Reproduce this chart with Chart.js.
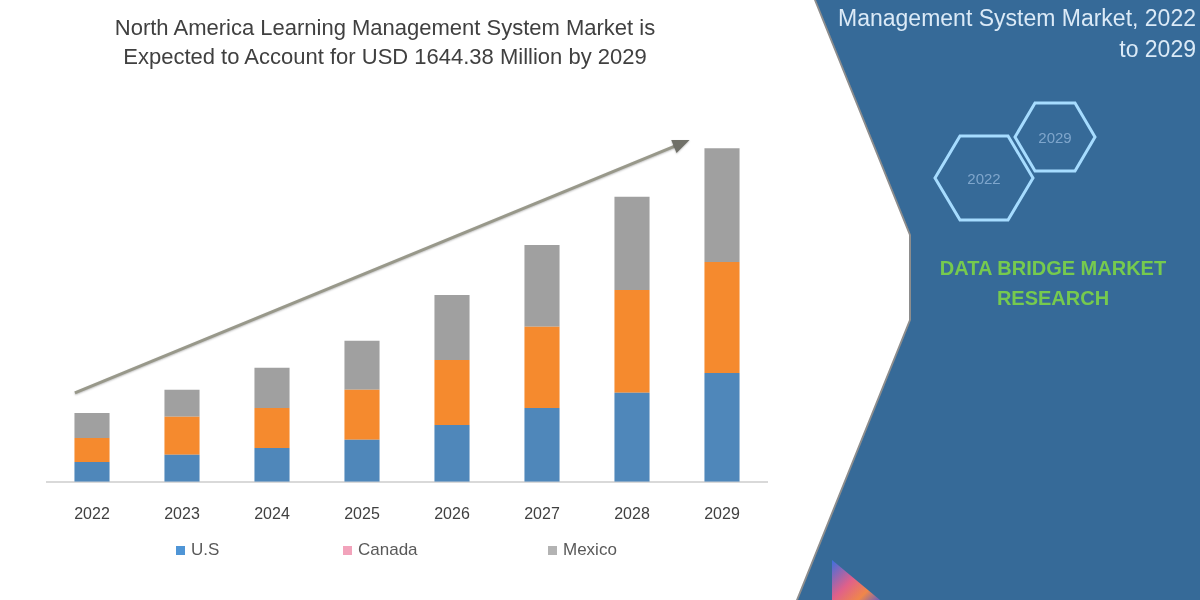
<!DOCTYPE html>
<html>
<head>
<meta charset="utf-8">
<title>North America Learning Management System Market</title>
<script src="https://cdn.jsdelivr.net/npm/chart.js@4.4.1/dist/chart.umd.min.js"></script>
<style>
  body { margin: 0; width: 1200px; height: 600px; overflow: hidden; background: #fff; position: relative; font-family: "Liberation Sans", Arial, sans-serif; }
  #title { position: absolute; left: 40px; width: 690px; top: 13px; text-align: center; color: #404040; font-size: 22px; line-height: 29px; }
  #chartBox { position: absolute; left: 0; top: 0; width: 800px; height: 600px; }
  #legend { position: absolute; top: 540px; left: 0; height: 20px; font-size: 17px; color: #595959; }
  #legend .item { position: absolute; white-space: nowrap; display: flex; align-items: center; }
  #legend .box { width: 9px; height: 9px; margin-right: 6px; }
  #edge, #panel { position: absolute; left: 0; top: 0; width: 1200px; height: 600px; }
  #edge { background: #8d8d8d; clip-path: polygon(814px 0, 909px 235px, 909px 320px, 796px 600px, 1200px 600px, 1200px 0); }
  #panel { background: #366a98; clip-path: polygon(816px 0, 911px 235px, 911px 320px, 798px 600px, 1200px 600px, 1200px 0); }
  #panelTitle { position: absolute; right: 4px; top: 3px; text-align: right; color: #dbeaf7; font-size: 23px; line-height: 31px; white-space: nowrap; }
  #brand { position: absolute; left: 920px; width: 266px; top: 253px; text-align: center; color: #76ca4e; font-weight: bold; font-size: 20px; line-height: 30px; }
  #hex { position: absolute; left: 0; top: 0; }
  #logo { position: absolute; left: 832px; top: 560px; width: 48px; height: 40px; background: linear-gradient(135deg, #3b6fe0 0%, #e0608a 45%, #f0874a 75%, #6a5fc0 100%); clip-path: polygon(0 0, 100% 100%, 0 100%); }
</style>
</head>
<body>
<div id="chartBox"><canvas id="chart"></canvas></div>
<div id="title">North America Learning Management System Market is<br>Expected to Account for USD 1644.38 Million by 2029</div>
<div id="legend"></div>
<div id="edge"></div>
<div id="panel"></div>
<svg id="hex" width="1200" height="600">
  <polygon points="935,178 960,136 1008,136 1033,178 1008,220 960,220" fill="none" stroke="#a6dcff" stroke-width="3"/>
  <polygon points="1015,137 1035,103 1075,103 1095,137 1075,171 1035,171" fill="none" stroke="#a6dcff" stroke-width="3"/>
  <text x="984" y="184" text-anchor="middle" font-family="Liberation Sans, Arial" font-size="15" fill="#7fa6cc">2022</text>
  <text x="1055" y="143" text-anchor="middle" font-family="Liberation Sans, Arial" font-size="15" fill="#7fa6cc">2029</text>
</svg>
<div id="panelTitle">Management System Market, 2022<br>to 2029</div>
<div id="brand">DATA BRIDGE MARKET<br>RESEARCH</div>
<div id="logo"></div>
<script>
// values in USD million
const years = ['2022', '2023', '2024', '2025', '2026', '2027', '2028', '2029'];
const usValues = [98, 133, 167, 207, 280, 364, 438, 536];
const canadaValues = [118, 187, 197, 246, 320, 399, 507, 546];
const mexicoValues = [123, 133, 197, 241, 320, 403, 458, 561];

const seriesNames = ['U.S', 'Canada', 'Mexico'];
const barColors = ['#4f87ba', '#f58a2e', '#a0a0a0'];
const legendColors = ['#4f95d6', '#f2a3bb', '#b3b3b3'];
const legendLeft = [176, 343, 548];

// trend arrow ends, as [category index, value]
const trendFrom = [-0.19, 438];
const trendTo = [6.64, 1683];

const trendArrow = {
  id: 'trendArrow',
  afterDatasetsDraw(chart) {
    const xs = chart.scales.x, ys = chart.scales.y, ctx = chart.ctx;
    const x0 = xs.getPixelForValue(trendFrom[0]), y0 = ys.getPixelForValue(trendFrom[1]);
    const x1 = xs.getPixelForValue(trendTo[0]), y1 = ys.getPixelForValue(trendTo[1]);
    const ang = Math.atan2(y1 - y0, x1 - x0);
    ctx.save();
    ctx.strokeStyle = '#98988a';
    ctx.lineWidth = 3;
    ctx.shadowColor = 'rgba(0,0,0,0.25)';
    ctx.shadowBlur = 2;
    ctx.shadowOffsetY = 1;
    ctx.beginPath();
    ctx.moveTo(x0, y0);
    ctx.lineTo(x1 - 12 * Math.cos(ang), y1 - 12 * Math.sin(ang));
    ctx.stroke();
    ctx.fillStyle = '#707068';
    ctx.beginPath();
    ctx.moveTo(x1, y1);
    ctx.lineTo(x1 - 17 * Math.cos(ang) + 7 * Math.sin(ang), y1 - 17 * Math.sin(ang) - 7 * Math.cos(ang));
    ctx.lineTo(x1 - 17 * Math.cos(ang) - 7 * Math.sin(ang), y1 - 17 * Math.sin(ang) + 7 * Math.cos(ang));
    ctx.closePath();
    ctx.fill();
    ctx.restore();
  }
};

const seriesValues = [usValues, canadaValues, mexicoValues];

new Chart(document.getElementById('chart').getContext('2d'), {
  type: 'bar',
  data: {
    labels: years,
    datasets: seriesNames.map((name, i) => ({
      label: name,
      data: seriesValues[i],
      backgroundColor: barColors[i],
      borderWidth: 0,
      categoryPercentage: 1,
      barPercentage: 0.39
    }))
  },
  options: {
    responsive: true,
    maintainAspectRatio: false,
    animation: false,
    layout: { padding: { left: 47, right: 33, top: 100, bottom: 53 } },
    scales: {
      x: {
        stacked: true,
        grid: { display: false, drawTicks: false },
        border: { display: true, color: '#d9d9d9', width: 2 },
        ticks: { color: '#404040', font: { family: 'Liberation Sans', size: 16 }, padding: 23 }
      },
      y: { stacked: true, display: false, min: 0, max: 1880 }
    },
    plugins: {
      legend: { display: false },
      tooltip: { enabled: false }
    }
  },
  plugins: [trendArrow]
});

// legend built from the series arrays
const legend = document.getElementById('legend');
seriesNames.forEach((name, i) => {
  const item = document.createElement('div');
  item.className = 'item';
  item.style.left = legendLeft[i] + 'px';
  item.innerHTML = '<span class="box" style="background:' + legendColors[i] + '"></span>' + name;
  legend.appendChild(item);
});
</script>
</body>
</html>
